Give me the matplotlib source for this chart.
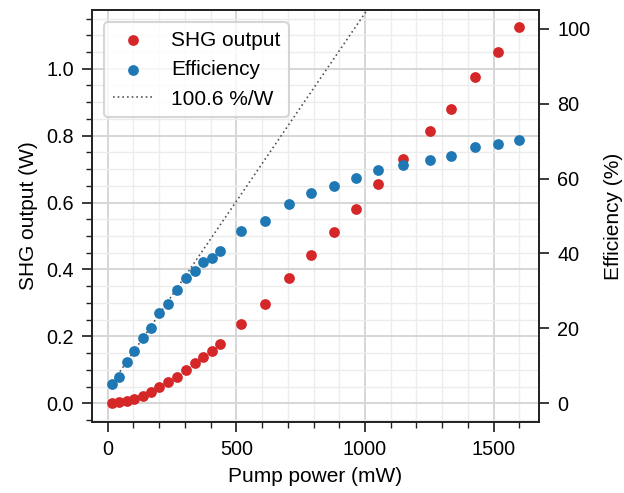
import matplotlib
matplotlib.use("Agg")
import matplotlib.pyplot as plt
from matplotlib.ticker import MultipleLocator
import numpy as np

plt.rcParams["font.family"] = ["Liberation Sans", "DejaVu Sans"]

# -----
# DATA
# -----
pump_mw = [17, 44, 75, 102, 136, 167, 201, 236, 270, 303, 338, 371, 407, 436,
           517, 612, 704, 789, 880, 965, 1051, 1149, 1252, 1334, 1426, 1517, 1597]
shg_w = [0.0006, 0.0024, 0.0075, 0.0135, 0.0225, 0.0336, 0.0474, 0.0624, 0.080,
         0.1005, 0.1195, 0.1396, 0.1577, 0.1757, 0.238, 0.298, 0.375, 0.443,
         0.511, 0.581, 0.654, 0.731, 0.815, 0.881, 0.976, 1.051, 1.125]
efficiency = [5.1, 7.0, 10.9, 13.9, 17.3, 20.1, 24.1, 26.5, 30.2, 33.4, 35.4,
              37.8, 38.8, 40.6, 46.0, 48.7, 53.2, 56.1, 58.1, 60.1, 62.3, 63.5,
              64.9, 66.0, 68.5, 69.3, 70.4]

# linear fit shown as dotted line (efficiency vs pump power)
fit_slope = 100.6      # %/W
fit_offset = 3.6       # %
fit_range_mw = [17, 1100]

red = "#d62728"
blue = "#1f77b4"

fig = plt.figure(figsize=(6.24, 4.93), dpi=100)
ax = fig.add_axes([0.147, 0.144, 0.717, 0.836])
ax2 = ax.twinx()

ax.scatter(pump_mw, shg_w, s=60, color=red, linewidths=0, zorder=3, label="SHG output")
ax2.scatter(pump_mw, efficiency, s=60, color=blue, linewidths=0, zorder=3, label="Efficiency")

fit_x = np.array(fit_range_mw)
ax2.plot(fit_x, fit_slope * fit_x / 1000 + fit_offset, linestyle=(0, (1, 1.8)),
         color="#555555", linewidth=1.2, zorder=2, label=f"{fit_slope} %/W")

ax.set_xlim(-62, 1677)
ax.set_ylim(-0.056, 1.176)
ax2.set_ylim(-5.08, 105.08)

ax.xaxis.set_major_locator(MultipleLocator(500))
ax.xaxis.set_minor_locator(MultipleLocator(100))
ax.yaxis.set_major_locator(MultipleLocator(0.2))
ax.yaxis.set_minor_locator(MultipleLocator(0.05))
ax2.yaxis.set_major_locator(MultipleLocator(20))

ax.set_axisbelow(True)
ax.grid(which="major", color="#d6d6d6", linewidth=1.4)
ax.grid(which="minor", color="#ececec", linewidth=1.0)

for a in (ax, ax2):
    a.tick_params(which="major", direction="out", length=7.5, width=1.25, pad=5.5,
                  labelsize=14.3, color="#222222")
    a.tick_params(which="minor", direction="out", length=4, width=1.0, color="#222222")
    for s in a.spines.values():
        s.set_linewidth(1.25)
        s.set_color("#222222")

ax.set_xlabel("Pump power (mW)", fontsize=15, labelpad=6)
ax.set_ylabel("SHG output (W)", fontsize=15, labelpad=6)
ax2.set_ylabel("Efficiency (%)", fontsize=15, labelpad=10)

h1, l1 = ax.get_legend_handles_labels()
h2, l2 = ax2.get_legend_handles_labels()
leg = ax2.legend(h1 + h2, l1 + l2, loc="upper left", fontsize=15, frameon=True,
                 fancybox=True, borderaxespad=0.6, handlelength=2.0, handletextpad=0.8)
leg.get_frame().set_edgecolor("#cccccc")
leg.get_frame().set_linewidth(1.5)

fig.savefig("out.png", dpi=100)
plt.close(fig)
